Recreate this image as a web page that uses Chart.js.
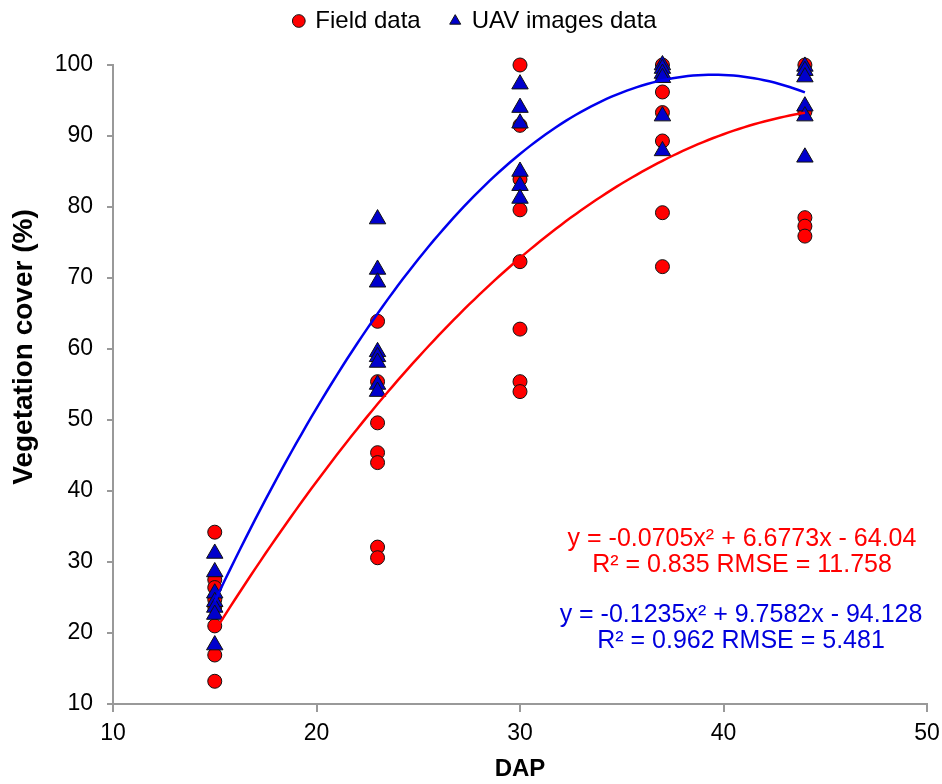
<!DOCTYPE html>
<html>
<head>
<meta charset="utf-8">
<script src="https://cdn.jsdelivr.net/npm/chart.js@4/dist/chart.umd.min.js"></script>
<style>
  html, body { margin: 0; padding: 0; background: #fff; }
  #wrap { width: 942px; height: 784px; }
</style>
</head>
<body>
<div id="wrap"><canvas id="chart" width="942" height="784"></canvas></div>
<script>
// --- datos ---
const fieldDap   = [15, 15, 15, 15, 15, 15, 15, 15,
                    23, 23, 23, 23, 23, 23, 23,
                    30, 30, 30, 30, 30, 30, 30, 30,
                    37, 37, 37, 37, 37, 37,
                    44, 44, 44, 44, 44];
const fieldCover = [34.2, 27.5, 26.4, 24.7, 23.7, 21.0, 16.9, 13.2,
                    63.9, 55.4, 49.6, 45.4, 44.0, 32.1, 30.6,
                    100, 91.5, 83.9, 79.6, 72.3, 62.8, 55.4, 54.0,
                    100, 96.2, 93.3, 89.3, 79.2, 71.6,
                    100, 93.4, 78.5, 77.3, 75.9];

const uavDap   = [15, 15, 15, 15, 15, 15, 15,
                  23, 23, 23, 23, 23, 23, 23, 23,
                  30, 30, 30, 30, 30, 30,
                  37, 37, 37, 37, 37, 37,
                  44, 44, 44, 44, 44, 44];
const uavCover = [31.2, 28.6, 25.6, 24.4, 23.6, 22.6, 18.3,
                  78.3, 71.2, 69.4, 59.6, 58.9, 58.1, 55.0, 54.0,
                  97.3, 94.0, 91.8, 85.0, 83.0, 81.2,
                  100, 99.5, 98.8, 98.2, 92.8, 87.9,
                  99.8, 99.2, 98.3, 94.2, 92.8, 87.0];

// coeficientes de las curvas de tendencia (a, b, c) -> a*x^2 + b*x + c
const fieldCoef = [-0.0705, 6.6773, -64.04];
const uavCoef   = [-0.1235, 9.7582, -94.128];
const trendRange = [15, 44];

const xTicks = [10, 20, 30, 40, 50];
const yTicks = [10, 20, 30, 40, 50, 60, 70, 80, 90, 100];

const yTitle = 'Vegetation cover (%)';
const fieldLabels = ['y = -0.0705x² + 6.6773x - 64.04', 'R² = 0.835 RMSE = 11.758'];
const uavLabels   = ['y = -0.1235x² + 9.7582x - 94.128', 'R² = 0.962 RMSE = 5.481'];

// --- utilidades ---
const toPoints = (xs, ys) => xs.map((x, i) => ({ x: x, y: ys[i] }));

function trendPoints(coef) {
    const pts = [];
    for (let x = trendRange[0]; x <= trendRange[1] + 1e-9; x += 0.25) {
        pts.push({ x: x, y: coef[0] * x * x + coef[1] * x + coef[2] });
    }
    return pts;
}

const FONT = '"Liberation Sans", Arial, sans-serif';
const LEGEND_H = 86;     // alto fijo de la leyenda (deja el hueco hasta el área del gráfico)
const LEGEND_SHIFT = 12; // la leyenda del original está algo a la derecha

// Ajuste de alto y posición de la leyenda
const legendGap = {
    id: 'legendGap',
    beforeLayout(chart) {
        const lg = chart.legend;
        if (lg && !lg._gapPatched) {
            const fit = lg.fit;
            lg.fit = function () { fit.call(this); this.height = LEGEND_H; };
            lg._gapPatched = true;
        }
    },
    afterLayout(chart) {
        const lg = chart.legend;
        if (lg) { lg.left += LEGEND_SHIFT; lg.right += LEGEND_SHIFT; }
    }
};

// Título del eje Y y texto de ecuaciones
const textPlugin = {
    id: 'texts',
    afterDraw(chart) {
        const ctx = chart.ctx;
        ctx.save();
        ctx.textAlign = 'center';
        ctx.textBaseline = 'middle';

        ctx.save();
        ctx.translate(24, 347);
        ctx.rotate(-Math.PI / 2);
        ctx.font = 'bold 28px ' + FONT;
        ctx.fillStyle = '#000';
        ctx.fillText(yTitle, 0, 0);
        ctx.restore();

        ctx.font = '25px ' + FONT;
        ctx.fillStyle = '#ff0000';
        ctx.fillText(fieldLabels[0], 742, 539);
        ctx.fillText(fieldLabels[1], 742, 565);
        ctx.fillStyle = '#0000dd';
        ctx.fillText(uavLabels[0], 741, 615);
        ctx.fillText(uavLabels[1], 741, 641);
        ctx.restore();
    }
};

const ctx = document.getElementById('chart');

new Chart(ctx, {
    type: 'scatter',
    data: {
        datasets: [
            {
                label: 'Field data',
                data: toPoints(fieldDap, fieldCover),
                pointStyle: 'circle',
                pointRadius: 7,
                backgroundColor: '#ff0000',
                borderColor: '#111',
                borderWidth: 1,
                clip: false,
                order: 4
            },
            {
                label: 'UAV images data',
                data: toPoints(uavDap, uavCover),
                pointStyle: 'triangle',
                pointRadius: 9.5,
                backgroundColor: '#0000cc',
                borderColor: '#111',
                borderWidth: 1,
                clip: false,
                order: 3
            },
            {
                label: 'trend field',
                type: 'line',
                data: trendPoints(fieldCoef),
                borderColor: '#ff0000',
                borderWidth: 2.5,
                pointRadius: 0,
                fill: false,
                order: 1
            },
            {
                label: 'trend uav',
                type: 'line',
                data: trendPoints(uavCoef),
                borderColor: '#0000ee',
                borderWidth: 2.5,
                pointRadius: 0,
                fill: false,
                order: 2
            }
        ]
    },
    options: {
        responsive: false,
        animation: false,
        layout: { padding: { left: 0, right: 15, top: -21, bottom: 0 } },
        plugins: {
            tooltip: { enabled: false },
            legend: {
                display: true,
                position: 'top',
                labels: {
                    filter: item => item.datasetIndex < 2,
                    sort: (a, b) => a.datasetIndex - b.datasetIndex,
                    usePointStyle: true,
                    boxWidth: 9,
                    boxHeight: 9,
                    padding: 30,
                    color: '#000',
                    font: { family: FONT, size: 24 }
                }
            }
        },
        scales: {
            x: {
                type: 'linear',
                min: 10,
                max: 50,
                afterBuildTicks: s => { s.ticks = xTicks.map(v => ({ value: v })); },
                afterFit: s => { s.height = 80; s.paddingLeft = 0; s.paddingRight = 0; },
                grid: {
                    display: true,
                    drawOnChartArea: false,
                    drawTicks: true,
                    tickLength: 8,
                    color: '#999',
                    lineWidth: 2
                },
                border: { display: true, color: '#999', width: 2 },
                ticks: { color: '#000', font: { family: FONT, size: 23 }, padding: 8 },
                title: {
                    display: true,
                    text: 'DAP',
                    color: '#000',
                    font: { family: FONT, size: 24, weight: 'bold' },
                    padding: { top: 4, bottom: 0 }
                }
            },
            y: {
                type: 'linear',
                min: 10,
                max: 100,
                afterBuildTicks: s => { s.ticks = yTicks.map(v => ({ value: v })); },
                afterFit: s => { s.width = 113; },
                grid: {
                    display: true,
                    drawOnChartArea: false,
                    drawTicks: true,
                    tickLength: 6,
                    color: '#999',
                    lineWidth: 2
                },
                border: { display: true, color: '#999', width: 2 },
                ticks: { color: '#000', font: { family: FONT, size: 23 }, padding: 14 },
                title: { display: false }
            }
        }
    },
    plugins: [legendGap, textPlugin]
});
</script>
</body>
</html>
